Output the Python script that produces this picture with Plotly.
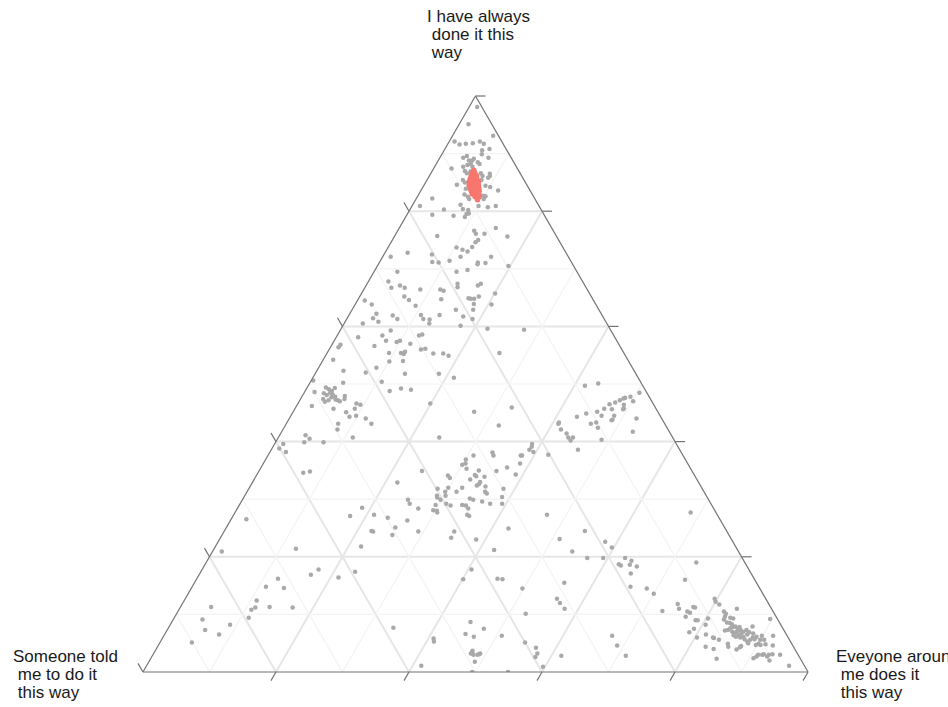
import math
import plotly.graph_objects as go

# Share of each reason (percent) per respondent.
# a = "I have always done it this way", b = "Someone told me to do it this way",
# c = "Everyone around me does it this way"
gray_a = [98.1, 95.1, 93.1, 92.1, 91.6, 91.7, 91.8, 92.1, 91.7, 90.6, 90.8, 89.9, 89.3, 89.3, 89.6, 88.8, 88.8, 89.1, 88.5, 88.2,
          87.7, 88.0, 88.2, 87.7, 87.4, 87.0, 86.6, 86.9, 86.6, 86.1, 86.5, 86.1, 85.8, 85.4, 85.0, 85.4, 84.4, 84.2, 84.6, 83.9,
          83.6, 82.9, 82.5, 82.7, 82.6, 82.1, 82.2, 82.1, 80.9, 81.1, 80.9, 80.9, 80.7, 80.3, 80.4, 80.2, 79.4, 79.2, 79.5, 79.6,
          79.0, 76.6, 76.1, 76.1, 77.1, 75.6, 75.7, 75.0, 74.6, 73.8, 73.7, 73.3, 73.0, 72.1, 72.5, 72.8, 72.1, 71.2, 71.1, 71.4,
          72.1, 71.1, 70.8, 71.0, 70.5, 69.5, 69.8, 69.5, 67.8, 66.7, 67.1, 66.7, 66.4, 66.4, 66.2, 67.4, 66.8, 67.1, 67.4, 65.7,
          65.2, 64.6, 64.7, 64.9, 64.8, 64.8, 65.2, 64.5, 63.8, 63.6, 63.9, 63.8, 62.9, 62.9, 62.2, 61.4, 60.8, 61.9, 61.3, 62.0,
          61.3, 61.2, 60.5, 62.0, 61.7, 61.3, 60.5, 60.1, 59.6, 59.4, 59.3, 58.1, 58.4, 57.5, 57.3, 57.5, 57.0, 58.4, 58.6, 56.6,
          56.8, 56.4, 55.4, 55.4, 55.6, 55.2, 56.0, 56.1, 55.3, 55.3, 54.9, 55.4, 54.2, 53.9, 54.0, 52.3, 52.0, 52.8, 51.8, 51.8,
          51.1, 50.2, 50.4, 50.6, 48.8, 49.2, 49.0, 49.4, 49.1, 48.8, 49.3, 48.4, 48.1, 48.5, 48.2, 47.8, 47.2, 47.0, 47.4, 46.9,
          47.2, 47.7, 47.3, 47.9, 47.4, 48.6, 46.2, 45.7, 46.6, 46.4, 45.7, 45.1, 44.3, 44.5, 44.0, 43.1, 43.1, 42.1, 46.6, 45.2,
          45.9, 42.8, 40.7, 40.7, 41.1, 40.5, 39.9, 39.9, 39.6, 38.8, 38.2, 34.6, 34.8, 26.5, 20.9, 21.4, 34.9, 32.9, 29.9, 29.2,
          28.4, 28.5, 27.1, 27.3, 26.8, 26.3, 25.1, 24.5, 24.4, 23.8, 24.4, 21.8, 38.1, 37.6, 37.6, 36.9, 36.2, 36.0, 35.3, 35.0,
          34.2, 34.0, 33.9, 33.4, 33.0, 32.6, 32.4, 32.2, 34.1, 33.7, 32.0, 31.8, 31.3, 31.3, 32.0, 30.6, 30.3, 30.6, 29.9, 31.3,
          31.0, 30.1, 29.9, 29.6, 29.2, 29.0, 29.2, 28.9, 29.0, 28.9, 28.4, 28.1, 28.0, 27.7, 27.3, 27.1, 24.4, 23.3, 23.0, 34.9,
          35.5, 31.8, 30.4, 29.2, 34.3, 36.2, 37.6, 37.6, 38.6, 39.6, 39.1, 38.2, 37.7, 27.3, 24.9, 21.2, 23.1, 20.9, 17.8, 16.1,
          16.2, 16.1, 38.6, 16.9, 17.8, 16.4, 17.4, 16.2, 14.8, 14.6, 12.4, 10.8, 11.2, 11.3, 11.2, 9.4, 11.3, 9.1, 7.3, 8.2,
          6.5, 5.1, 7.7, 19.8, 19.8, 22.6, 21.6, 19.8, 19.3, 18.7, 18.5, 18.6, 18.3, 17.1, 14.8, 14.5, 13.6, 10.6, 11.8, 11.0,
          14.5, 15.5, 12.7, 12.0, 11.0, 10.1, 5.8, 5.3, 8.7, 6.6, 6.1, 7.5, 6.3, 3.7, 3.4, 3.0, 3.2, 3.0, 3.2, 1.8,
          3.1, 1.1, 0.0, 0.0, 5.1, 4.2, 3.2, 2.6, 0.9, 2.8, 6.3, 4.6, 2.8, 19.0, 16.0, 10.5, 10.3, 9.6, 11.3, 11.2,
          9.0, 9.0, 9.3, 8.2, 7.5, 6.9, 6.0, 6.5, 6.0, 5.9, 5.6, 4.4, 4.0, 2.3, 12.7, 12.2, 11.7, 10.5, 10.1, 9.6,
          9.4, 9.3, 11.0, 9.1, 8.6, 8.5, 8.3, 7.2, 7.3, 7.6, 7.8, 7.9, 7.6, 7.8, 7.3, 7.0, 6.8, 7.0, 6.4, 6.1,
          6.4, 6.0, 6.7, 7.0, 7.3, 6.5, 6.9, 6.1, 5.7, 5.3, 5.6, 5.0, 6.0, 6.7, 7.9, 5.7, 6.1, 4.9, 5.6, 6.3,
          5.6, 4.8, 4.7, 4.7, 9.2, 6.3, 4.6, 3.1, 3.0, 2.7, 3.1, 3.0, 3.0, 2.7, 2.4, 2.0, 3.0, 1.1, 4.9, 4.4,
          3.9, 4.3, 4.5, 49.7, 50.1, 48.5, 47.8, 47.6, 47.5, 47.2, 46.8, 46.5, 45.7, 45.2, 44.9, 44.3, 43.3, 43.1, 42.1, 41.4,
          40.7, 40.7, 40.2, 40.3, 43.1, 43.3, 42.4, 44.5, 45.6, 44.5, 43.7, 43.8, 45.8, 45.6, 46.4, 47.0, 44.0, 41.7, 27.7, 24.5]
gray_b = [0.7, 3.5, 0.8, 7.1, 6.6, 5.6, 4.5, 3.3, 2.9, 3.7, 2.5, 4.1, 3.4, 7.2, 6.5, 6.6, 6.1, 5.7, 5.4, 5.3,
          8.0, 7.2, 6.6, 6.6, 9.9, 8.1, 8.0, 7.3, 5.9, 5.9, 4.6, 4.8, 5.2, 9.2, 9.1, 6.4, 6.3, 5.7, 10.5, 9.5,
          4.8, 10.2, 9.9, 7.5, 7.2, 7.7, 15.4, 9.9, 17.9, 11.7, 9.1, 6.5, 7.8, 14.6, 11.7, 11.0, 16.8, 13.7, 11.6, 11.2,
          12.1, 11.9, 11.9, 10.6, 8.4, 7.4, 17.9, 12.1, 12.7, 13.6, 16.0, 15.3, 14.7, 16.2, 20.3, 23.8, 26.7, 20.9, 20.0, 18.2,
          11.6, 14.1, 14.3, 13.0, 9.8, 18.1, 16.3, 27.0, 29.2, 29.3, 27.8, 27.3, 25.1, 22.1, 21.7, 19.0, 19.3, 16.1, 15.5, 14.2,
          28.1, 27.7, 22.8, 18.6, 18.3, 17.8, 16.9, 34.4, 33.7, 27.2, 18.3, 15.7, 21.5, 18.9, 33.8, 34.7, 34.2, 31.5, 31.1, 27.2,
          27.2, 26.3, 26.7, 24.4, 21.0, 19.8, 36.7, 22.2, 18.4, 13.0, 33.1, 38.6, 34.8, 34.7, 33.2, 32.6, 31.3, 29.3, 28.7, 36.9,
          41.9, 42.4, 35.3, 33.5, 32.8, 33.2, 30.2, 29.5, 28.7, 27.2, 26.6, 18.7, 44.3, 36.0, 33.9, 43.7, 40.5, 38.5, 34.7, 29.6,
          27.7, 44.8, 38.9, 49.1, 38.5, 36.6, 35.2, 47.8, 47.5, 47.2, 46.5, 48.6, 48.3, 47.6, 47.4, 47.2, 47.1, 46.9, 49.2, 49.2,
          48.5, 47.8, 47.4, 45.7, 46.0, 49.9, 51.5, 48.5, 44.6, 44.1, 45.3, 46.9, 46.8, 45.7, 44.5, 44.1, 49.1, 49.7, 33.5, 27.6,
          21.6, 25.1, 35.1, 48.1, 55.0, 54.7, 55.8, 52.9, 59.1, 60.1, 59.4, 58.6, 57.5, 71.2, 77.7, 66.3, 40.6, 45.3, 45.2, 45.3,
          44.4, 52.8, 55.3, 51.6, 49.8, 47.1, 49.5, 53.4, 53.2, 50.6, 46.4, 56.3, 28.4, 28.5, 31.5, 33.0, 33.4, 34.0, 33.7, 32.0,
          33.0, 32.9, 31.7, 34.1, 32.8, 33.2, 33.6, 32.4, 37.1, 37.0, 38.1, 39.8, 38.9, 37.2, 36.0, 40.5, 40.6, 39.2, 40.3, 32.9,
          32.8, 35.8, 35.4, 34.2, 33.2, 41.5, 39.8, 39.3, 37.5, 37.0, 36.9, 42.3, 41.8, 41.9, 37.6, 37.4, 41.0, 42.0, 38.4, 29.4,
          27.5, 29.9, 30.8, 31.4, 26.8, 25.2, 24.4, 24.2, 22.6, 21.7, 22.0, 22.2, 20.2, 25.6, 32.6, 36.6, 25.8, 25.0, 41.7, 43.8,
          38.6, 37.9, 15.3, 66.3, 64.7, 62.4, 59.4, 71.6, 74.1, 71.5, 76.7, 78.3, 77.5, 75.3, 71.9, 79.4, 84.1, 86.5, 87.0, 82.8,
          85.3, 90.1, 58.5, 23.3, 20.9, 19.2, 18.7, 17.6, 16.9, 19.1, 18.9, 17.5, 16.6, 18.1, 19.3, 17.0, 16.4, 16.6, 13.7, 13.9,
          35.7, 28.9, 31.4, 31.3, 31.1, 37.4, 53.4, 53.6, 46.4, 48.2, 47.2, 45.0, 42.9, 48.6, 48.8, 48.8, 49.1, 48.2, 47.7, 49.2,
          47.9, 57.6, 50.5, 45.1, 40.0, 38.8, 39.1, 39.7, 39.4, 35.7, 26.3, 26.4, 26.0, 7.3, 10.5, 12.9, 12.6, 13.6, 11.6, 11.4,
          12.4, 12.1, 10.4, 11.3, 13.4, 14.4, 13.7, 12.1, 11.3, 11.2, 10.6, 13.2, 12.2, 12.6, 7.7, 7.8, 7.5, 7.4, 7.3, 7.7,
          7.0, 6.6, 5.2, 8.1, 7.9, 7.5, 7.3, 8.9, 8.4, 7.9, 7.4, 7.0, 6.8, 6.4, 6.5, 7.9, 7.7, 7.2, 8.0, 7.8,
          7.3, 7.2, 6.7, 6.2, 5.6, 5.9, 5.4, 6.7, 6.7, 6.5, 5.9, 6.5, 5.3, 4.9, 4.4, 5.2, 4.7, 5.0, 4.4, 3.8,
          3.8, 4.0, 4.8, 5.5, 1.1, 2.1, 3.0, 3.8, 4.4, 4.8, 5.1, 5.4, 6.0, 6.4, 7.0, 4.8, 2.7, 2.3, 9.6, 9.8,
          8.8, 8.1, 7.8, 8.7, 6.5, 1.1, 2.8, 3.7, 4.0, 4.7, 5.6, 6.6, 7.8, 9.1, 10.9, 12.6, 15.8, 16.0, 16.1, 15.6,
          15.7, 15.0, 15.6, 10.9, 11.1, 10.2, 10.4, 8.8, 6.7, 6.9, 7.7, 7.5, 4.8, 5.0, 4.5, 2.8, 3.8, 5.5, 3.8, 21.3]
gray_c = [1.2, 1.4, 6.1, 0.8, 1.8, 2.7, 3.7, 4.6, 5.4, 5.7, 6.7, 6.0, 7.3, 3.5, 3.9, 4.6, 5.1, 5.2, 6.1, 6.5,
          4.3, 4.8, 5.2, 5.7, 2.7, 4.9, 5.4, 5.8, 7.5, 8.0, 8.9, 9.1, 9.0, 5.4, 5.9, 8.2, 9.3, 10.1, 4.9, 6.6,
          11.6, 6.9, 7.6, 9.8, 10.2, 10.2, 2.4, 8.0, 1.2, 7.2, 10.0, 12.6, 11.5, 5.1, 7.9, 8.8, 3.8, 7.1, 8.9, 9.2,
          8.9, 11.5, 12.0, 13.3, 14.5, 17.0, 6.4, 12.9, 12.7, 12.6, 10.3, 11.4, 12.3, 11.7, 7.2, 3.4, 1.2, 7.9, 8.9, 10.4,
          16.3, 14.8, 14.9, 16.0, 19.7, 12.4, 13.9, 3.5, 3.0, 4.0, 5.1, 6.0, 8.5, 11.5, 12.1, 13.6, 13.9, 16.8, 17.1, 20.1,
          6.7, 7.7, 12.5, 16.5, 16.9, 17.4, 17.9, 1.1, 2.5, 9.2, 17.8, 20.5, 15.6, 18.2, 4.0, 3.9, 5.0, 6.6, 7.6, 10.8,
          11.5, 12.5, 12.8, 13.6, 17.3, 18.9, 2.8, 17.7, 22.0, 27.6, 7.6, 3.3, 6.8, 7.8, 9.5, 9.9, 11.7, 12.3, 12.7, 6.5,
          1.3, 1.2, 9.3, 11.1, 11.6, 11.6, 13.8, 14.4, 16.0, 17.5, 18.5, 25.9, 1.5, 10.1, 12.1, 4.0, 7.5, 8.7, 13.5, 18.6,
          21.2, 5.0, 10.7, 0.3, 12.7, 14.2, 15.8, 2.8, 3.4, 4.0, 4.2, 3.0, 3.6, 3.9, 4.4, 5.0, 5.7, 6.1, 3.4, 3.9,
          4.3, 4.5, 5.3, 6.4, 6.6, 1.5, 2.3, 5.8, 8.8, 9.5, 9.0, 8.0, 8.9, 9.8, 11.5, 12.8, 7.8, 8.2, 19.9, 27.2,
          32.5, 32.1, 24.2, 11.2, 3.9, 4.8, 4.3, 7.2, 1.3, 1.1, 2.4, 6.8, 7.7, 2.3, 1.4, 12.3, 24.5, 21.8, 24.9, 25.5,
          27.2, 18.7, 17.6, 21.1, 23.4, 26.6, 25.4, 22.1, 22.4, 25.6, 29.2, 21.9, 33.5, 33.9, 30.9, 30.1, 30.4, 30.0, 31.0, 33.0,
          32.8, 33.1, 34.4, 32.5, 34.2, 34.2, 34.0, 35.4, 28.8, 29.3, 29.9, 28.4, 29.8, 31.5, 32.0, 28.9, 29.1, 30.2, 29.8, 35.8,
          36.2, 34.1, 34.7, 36.2, 37.6, 29.5, 31.0, 31.8, 33.5, 34.1, 34.7, 29.6, 30.2, 30.4, 35.1, 35.5, 34.6, 34.7, 38.6, 35.7,
          37.0, 38.3, 38.8, 39.4, 38.9, 38.6, 38.0, 38.2, 38.8, 38.7, 38.9, 39.6, 42.1, 47.1, 42.5, 42.2, 51.1, 54.1, 40.5, 40.1,
          45.2, 46.0, 46.1, 16.8, 17.5, 21.2, 23.2, 12.2, 11.1, 13.9, 10.9, 10.9, 11.3, 13.4, 16.9, 11.2, 4.6, 4.4, 5.7, 9.0,
          8.2, 4.8, 33.8, 56.9, 59.3, 58.2, 59.7, 62.6, 63.8, 62.2, 62.6, 63.9, 65.1, 64.8, 65.9, 68.5, 70.0, 72.8, 74.5, 75.1,
          49.8, 55.6, 55.9, 56.7, 57.9, 52.5, 40.8, 41.1, 44.9, 45.2, 46.7, 47.5, 50.8, 47.7, 47.8, 48.2, 47.7, 48.8, 49.1, 49.0,
          49.0, 41.3, 49.5, 54.9, 54.9, 57.0, 57.7, 57.7, 59.7, 61.5, 67.4, 69.0, 71.2, 73.7, 73.5, 76.6, 77.1, 76.8, 77.1, 77.4,
          78.6, 78.9, 80.3, 80.5, 79.1, 78.7, 80.3, 81.4, 82.7, 82.9, 83.8, 82.4, 83.8, 85.1, 79.6, 80.0, 80.8, 82.1, 82.6, 82.7,
          83.6, 84.1, 83.8, 82.8, 83.5, 84.0, 84.4, 83.9, 84.3, 84.5, 84.8, 85.1, 85.6, 85.8, 86.2, 85.1, 85.5, 85.8, 85.6, 86.1,
          86.3, 86.8, 86.6, 86.8, 87.1, 87.6, 87.7, 87.2, 87.6, 88.2, 88.5, 88.5, 88.7, 88.4, 87.7, 89.1, 89.2, 90.1, 90.0, 89.9,
          90.6, 91.2, 90.5, 89.8, 89.7, 91.6, 92.4, 93.1, 92.6, 92.5, 91.8, 91.6, 91.0, 90.9, 90.6, 93.2, 94.3, 96.6, 85.5, 85.8,
          87.3, 87.6, 87.7, 41.6, 43.4, 50.4, 49.4, 48.7, 48.5, 48.1, 47.6, 46.9, 46.5, 45.7, 44.2, 43.1, 40.9, 40.9, 41.8, 43.0,
          43.6, 44.3, 44.2, 48.8, 45.8, 46.5, 47.2, 46.7, 47.7, 48.6, 48.6, 48.7, 49.4, 49.4, 49.1, 50.2, 52.2, 52.8, 68.5, 54.2]

# Highlighted group
red_a = [87.1,
         86.6, 86.6, 86.6,
         86.1, 86.1, 86.1, 86.1,
         85.6, 85.6, 85.6, 85.6, 85.6,
         85.1, 85.1, 85.1, 85.1, 85.1, 85.1,
         84.5, 84.5, 84.5, 84.5, 84.5, 84.5,
         84.0, 84.0, 84.0, 84.0, 84.0, 84.0,
         83.5, 83.5, 83.5, 83.5, 83.5,
         83.0, 83.0, 83.0, 83.0, 83.0,
         82.5, 82.5, 82.5,
         82.0]
red_b = [6.7,
         7.2, 7.0, 6.8,
         7.6, 7.3, 7.0, 6.8,
         8.0, 7.7, 7.4, 7.1, 7.0,
         8.4, 8.1, 7.8, 7.5, 7.2, 7.0,
         8.7, 8.4, 8.1, 7.8, 7.5, 7.3,
         8.8, 8.5, 8.2, 7.9, 7.6, 7.5,
         8.9, 8.6, 8.3, 8.0, 7.7,
         9.0, 8.7, 8.4, 8.1, 8.0,
         8.8, 8.5, 8.2,
         8.7]
red_c = [6.2,
         6.2, 6.4, 6.6,
         6.3, 6.6, 6.9, 7.1,
         6.4, 6.7, 7.0, 7.3, 7.4,
         6.5, 6.8, 7.1, 7.4, 7.7, 7.9,
         6.8, 7.1, 7.4, 7.7, 8.0, 8.2,
         7.2, 7.5, 7.8, 8.1, 8.4, 8.5,
         7.6, 7.9, 8.2, 8.5, 8.8,
         8.0, 8.3, 8.6, 8.9, 9.0,
         8.7, 9.0, 9.3,
         9.3]

# Axis titles, one entry per text line
title_a = ["I have always", "\u00a0done it this", "\u00a0way"]
title_b = ["Someone told", "\u00a0me to do it", "\u00a0this way"]
title_c = ["Eveyone around", "\u00a0me does it", "\u00a0this way"]

tick_values = [20, 40, 60, 80, 100]
minor_levels = [10, 30, 50, 70, 90]

axis_color = "#737373"
major_grid = "#e6e6e6"
minor_grid = "#f3f3f3"
text_color = "#1a1a1a"
font_family = "Liberation Sans, Arial, sans-serif"

W, H = 948, 707
M_L, M_R, M_T, M_B = 140, 137, 96, 35
plot_w = W - M_L - M_R
plot_h = H - M_T - M_B

fig = go.Figure()

# minor grid lines (every 10%)
for v in minor_levels:
    w = 100 - v
    for a_, b_, c_ in (([v, v], [w, 0], [0, w]), ([w, 0], [v, v], [0, w]), ([w, 0], [0, w], [v, v])):
        fig.add_trace(go.Scatterternary(a=a_, b=b_, c=c_, mode="lines",
                                        line=dict(color=minor_grid, width=1.2),
                                        hoverinfo="skip", showlegend=False))

fig.add_trace(go.Scatterternary(a=gray_a, b=gray_b, c=gray_c, mode="markers",
                                marker=dict(color="#a9a9a9", size=4.5, line=dict(width=0)),
                                showlegend=False))
fig.add_trace(go.Scatterternary(a=red_a, b=red_b, c=red_c, mode="markers",
                                marker=dict(color="#f8766d", size=5.5, line=dict(width=0)),
                                showlegend=False))


def axis():
    return dict(title=dict(text=""), min=0, tick0=0, dtick=20, showticklabels=False, ticks="",
                linecolor=axis_color, linewidth=1.2,
                showgrid=True, gridcolor=major_grid, gridwidth=1.5)


# Triangle geometry in paper units (ternary fills the plot height, centred horizontally)
side_px = plot_h * 2 / math.sqrt(3)
half_w = side_px / 2 / plot_w


def tern_to_paper(a, b, c):
    s = a + b + c
    a, b, c = a / s, b / s, c / s
    x = 0.5 + half_w * (c - b)
    y = a
    return x, y


tick_len = 10
shapes = []
for v in tick_values:
    # a-axis ticks: right edge, horizontal, pointing outward
    x0, y0 = tern_to_paper(v, 0, 100 - v)
    shapes.append(dict(type="line", xref="paper", yref="paper", x0=x0, y0=y0,
                       x1=x0 + tick_len / plot_w, y1=y0, line=dict(color=axis_color, width=1.2)))
    # b-axis ticks: left edge, along the b grid direction
    x0, y0 = tern_to_paper(100 - v, v, 0)
    shapes.append(dict(type="line", xref="paper", yref="paper", x0=x0, y0=y0,
                       x1=x0 - 0.5 * tick_len / plot_w, y1=y0 + math.sqrt(3) / 2 * tick_len / plot_h,
                       line=dict(color=axis_color, width=1.2)))
    # c-axis ticks: bottom edge, along the c grid direction
    x0, y0 = tern_to_paper(0, 100 - v, v)
    shapes.append(dict(type="line", xref="paper", yref="paper", x0=x0, y0=y0,
                       x1=x0 - 0.5 * tick_len / plot_w, y1=y0 - math.sqrt(3) / 2 * tick_len / plot_h,
                       line=dict(color=axis_color, width=1.2)))


def title_lines(lines, x_px, y_px_first, step_px=17.8):
    out = []
    for i, line in enumerate(lines):
        y_px = y_px_first + i * step_px
        out.append(dict(text=line, xref="paper", yref="paper",
                        x=(x_px - M_L) / plot_w, y=(H - M_B - y_px) / plot_h,
                        xanchor="left", yanchor="middle", showarrow=False, align="left",
                        font=dict(family=font_family, size=17, color=text_color)))
    return out


annotations = (title_lines(title_a, 425, 16.5)
               + title_lines(title_b, 10.5, 656.5)
               + title_lines(title_c, 834, 656.5))

fig.update_layout(
    width=W, height=H,
    margin=dict(l=M_L, r=M_R, t=M_T, b=M_B),
    paper_bgcolor="white",
    ternary=dict(sum=100, bgcolor="white", aaxis=axis(), baxis=axis(), caxis=axis()),
    shapes=shapes,
    annotations=annotations,
    showlegend=False,
    font=dict(family=font_family),
)

fig.write_html("out.html")
